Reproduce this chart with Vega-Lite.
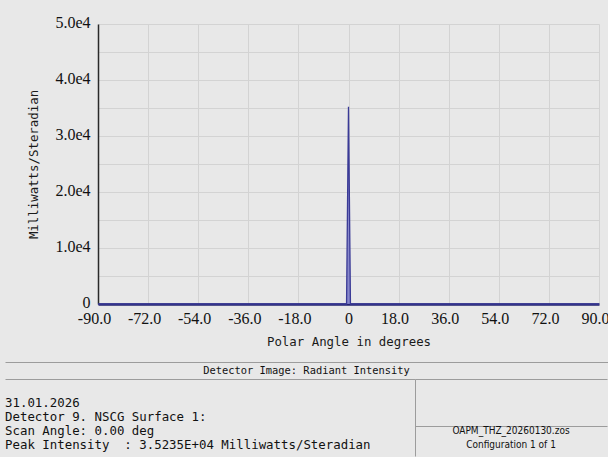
{
  "$schema": "https://vega.github.io/schema/vega-lite/v6.json",
  "background": "#e8e8e8",
  "padding": {"left": 5, "top": 14, "right": 0, "bottom": 0},
  "config": {"view": {"stroke": null}, "concat": {"spacing": 0}, "axis": {"minExtent": 0}},
  "spacing": 14,
  "vconcat": [
    {
      "spacing": 0,
      "hconcat": [
        {"width": 22, "height": 280, "data": {"values": [{}]}, "mark": {"type": "text", "text": ""}},
        {
          "width": 501,
          "height": 280,
          "data": {"values": [
            {"angle": -90, "intensity": 0},
            {"angle": -0.7, "intensity": 0},
            {"angle": 0, "intensity": 35235},
            {"angle": 0.7, "intensity": 0},
            {"angle": 90, "intensity": 0}
          ]},
          "encoding": {
            "x": {
              "field": "angle", "type": "quantitative",
              "scale": {"domain": [-90, 90], "nice": false, "zero": false},
              "axis": {
                "values": [-90, -72, -54, -36, -18, 0, 18, 36, 54, 72, 90],
                "labelExpr": "datum.value == 0 ? '0' : (datum.value < 0 ? '-' : '') + format(abs(datum.value), '.1f')",
                "title": "Polar Angle in degrees",
                "titleFont": "DejaVu Sans Mono", "titleFontSize": 12.4, "titleFontWeight": "normal", "titleColor": "#1a1a1a", "titlePadding": 9,
                "labelFont": "Liberation Serif", "labelFontSize": 16, "labelColor": "#111111", "labelPadding": 6,
                "labelOverlap": false, "labelFlush": false,
                "labelOffset": {"condition": {"test": "datum.value == 0", "value": 0}, "value": -4},
                "ticks": false, "tickSize": 0,
                "domain": true, "domainColor": "#22226e", "domainWidth": 2.5,
                "grid": true, "gridColor": "#d3d3d3", "gridWidth": 1
              }
            },
            "y": {
              "field": "intensity", "type": "quantitative",
              "scale": {"domain": [0, 50000], "nice": false},
              "axis": {
                "values": [0, 5000, 10000, 15000, 20000, 25000, 30000, 35000, 40000, 45000, 50000],
                "labelExpr": "datum.value == 0 ? '0' : (datum.value % 10000 == 0 ? format(datum.value / 10000, '.1f') + 'e4' : '')",
                "title": "Milliwatts/Steradian",
                "titleFont": "DejaVu Sans Mono", "titleFontSize": 12.4, "titleFontWeight": "normal", "titleColor": "#1a1a1a", "titlePadding": 14,
                "labelFont": "Liberation Serif", "labelFontSize": 16, "labelColor": "#111111", "labelPadding": 8, "labelOffset": -2,
                "labelOverlap": false, "labelFlush": false,
                "ticks": false, "tickSize": 0,
                "domain": true, "domainColor": "#2a2a2a", "domainWidth": 1.5,
                "grid": true, "gridColor": "#d3d3d3", "gridWidth": 1
              }
            }
          },
          "layer": [
            {"mark": {"type": "area", "color": "#7c7cc8", "opacity": 0.9}},
            {"mark": {"type": "line", "color": "#3a3a96", "strokeWidth": 1.3}}
          ]
        }
      ]
    },
    {
      "spacing": 0,
      "vconcat": [
        {
          "width": 603,
          "height": 17,
          "data": {"values": [{"label": "Detector Image: Radiant Intensity"}]},
          "mark": {"type": "text", "font": "DejaVu Sans Mono", "fontSize": 10.4, "color": "#111111"},
          "encoding": {
            "text": {"field": "label"},
            "x": {"datum": 0.5, "type": "quantitative", "scale": {"domain": [0, 1]},
                  "axis": {"orient": "top", "domain": true, "domainColor": "#9c9c9c", "domainWidth": 1, "labels": false, "ticks": false, "grid": false, "title": null}}
          }
        },
        {
          "spacing": 0,
          "hconcat": [
            {
              "width": 410,
              "height": 77,
              "data": {"values": [
                {"line": 1, "text": "31.01.2026"},
                {"line": 2, "text": "Detector 9. NSCG Surface 1:"},
                {"line": 3, "text": "Scan Angle: 0.00 deg"},
                {"line": 4, "text": "Peak Intensity\u00a0 : 3.5235E+04 Milliwatts/Steradian"}
              ]},
              "mark": {"type": "text", "align": "left", "baseline": "middle", "font": "DejaVu Sans Mono", "fontSize": 12.4, "color": "#111111"},
              "encoding": {
                "x": {"datum": 0, "type": "quantitative", "scale": {"domain": [0, 1]},
                      "axis": {"orient": "top", "domain": true, "domainColor": "#9c9c9c", "domainWidth": 1, "labels": false, "ticks": false, "grid": false, "title": null}},
                "y": {"field": "line", "type": "quantitative", "scale": {"domain": [-0.788, 4.832], "reverse": true, "nice": false, "zero": false},
                      "axis": {"orient": "right", "domain": true, "domainColor": "#9c9c9c", "domainWidth": 1, "labels": false, "ticks": false, "grid": false, "title": null}},
                "text": {"field": "text"}
              }
            },
            {
              "spacing": 0,
              "vconcat": [
                {
                  "width": 192,
                  "height": 46,
                  "data": {"values": [{}]},
                  "mark": {"type": "text", "text": ""},
                  "encoding": {
                    "x": {"datum": 0.5, "type": "quantitative", "scale": {"domain": [0, 1]},
                          "axis": {"orient": "top", "domain": true, "domainColor": "#9c9c9c", "domainWidth": 1, "labels": false, "ticks": false, "grid": false, "title": null}}
                  }
                },
                {
                  "width": 192,
                  "height": 31,
                  "data": {"values": [
                    {"line": 1, "text": "OAPM_THZ_20260130.zos"},
                    {"line": 2, "text": "Configuration 1 of 1"}
                  ]},
                  "mark": {"type": "text", "baseline": "middle", "font": "Liberation Sans Narrow, DejaVu Sans Condensed, sans-serif", "fontSize": 10, "color": "#111111"},
                  "encoding": {
                    "x": {"datum": 0.5, "type": "quantitative", "scale": {"domain": [0, 1]},
                          "axis": {"orient": "top", "domain": true, "domainColor": "#9c9c9c", "domainWidth": 1, "labels": false, "ticks": false, "grid": false, "title": null}},
                    "y": {"field": "line", "type": "ordinal", "scale": {"type": "point", "padding": 0.607, "align": 0.29}, "axis": null},
                    "text": {"field": "text"}
                  }
                }
              ]
            }
          ]
        }
      ]
    }
  ]
}
